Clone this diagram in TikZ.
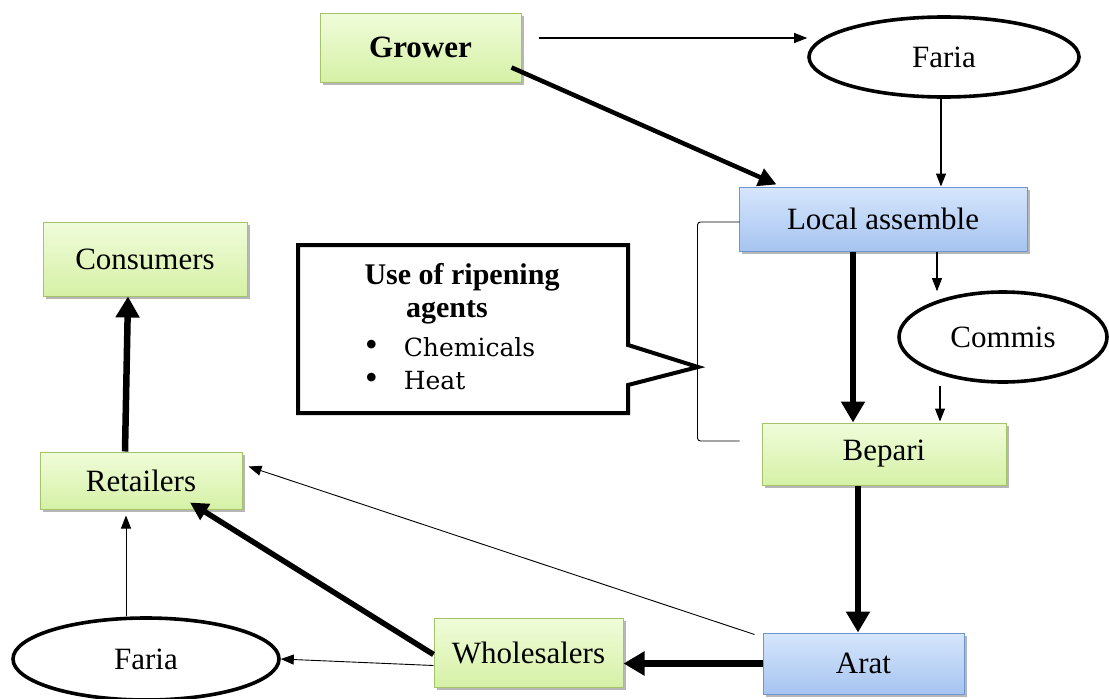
\documentclass[tikz,border=0pt]{standalone}
\usepackage{fontspec}
\setmainfont{Liberation Serif}
\newfontfamily\listfont{DejaVu Serif}
\usetikzlibrary{shapes.geometric,shadows,arrows.meta,calc}
\definecolor{grnTop}{RGB}{240,252,218}
\definecolor{grnBot}{RGB}{214,241,166}
\definecolor{grnEdge}{RGB}{165,196,105}
\definecolor{bluTop}{RGB}{214,230,252}
\definecolor{bluBot}{RGB}{166,196,240}
\definecolor{bluEdge}{RGB}{110,150,210}
\tikzset{
  lbl/.style={font=\fontsize{31}{36}\selectfont},
  box/.style={rectangle, inner sep=0pt, lbl, line width=1pt,
    drop shadow={shadow xshift=2.5pt, shadow yshift=-3pt, fill=black!40, opacity=0.7}},
  greenbox/.style={box, draw=grnEdge, top color=grnTop, bottom color=grnBot},
  bluebox/.style={box, draw=bluEdge, top color=bluTop, bottom color=bluBot},
  agent/.style={ellipse, draw, line width=3.6pt, inner sep=0pt, lbl, fill=white},
  thinarrow/.style={draw, line width=1.1pt, -{Triangle[length=13pt,width=10pt]}},
  thickarrow/.style={draw, line width=6.5pt, -{Triangle[length=21pt,width=23pt]}},
  midarrow/.style={draw, line width=4.5pt, -{Triangle[length=18pt,width=18pt]}},
}
\begin{document}
\begin{tikzpicture}[x=1pt,y=-1pt]
\useasboundingbox (0,0) rectangle (1109,699);

% market actors
\node[greenbox, minimum width=201pt, minimum height=69pt, font=\fontsize{31}{36}\selectfont\bfseries] (grower) at (420.5,47.5) {Grower};
\node[agent, minimum width=270pt, minimum height=80pt] (faria1) at (944,57) {Faria};
\node[bluebox, minimum width=288pt, minimum height=64pt] (local) at (883,219) {Local assemble};
\node[agent, minimum width=208pt, minimum height=90pt] (commis) at (1003,337) {Commis};
\node[greenbox, minimum width=244pt, minimum height=62pt] (bepari) at (884,454) {Bepari};
\node[bluebox, minimum width=201pt, minimum height=61pt] (arat) at (863.5,663.5) {Arat};
\node[greenbox, minimum width=189pt, minimum height=69pt] (whole) at (528.5,652.5) {Wholesalers};
\node[agent, minimum width=266pt, minimum height=82pt] (faria2) at (146,659) {Faria};
\node[greenbox, minimum width=202pt, minimum height=57pt] (retail) at (141,480.5) {Retailers};
\node[greenbox, minimum width=204pt, minimum height=74pt] (consum) at (145,259) {Consumers};

% callout with ripening agents
\draw[line width=4pt, line join=miter, fill=white]
  (298,245) -- (628,245) -- (628,345) -- (698,367) -- (628,385)
  -- (628,413) -- (298,413) -- cycle;
\node[lbl, font=\fontsize{30}{34}\selectfont\bfseries, align=center] (ttl) at (462,294)
  {Use of ripening\\[-1pt]\hspace*{-30pt}agents};
\node[anchor=west, inner sep=0pt] (b1) at (365,347) {{\fontsize{36}{30}\selectfont\textbullet}\hspace{26pt}{\listfont\fontsize{25}{30}\selectfont Chemicals}};
\node[anchor=west, inner sep=0pt] (b2) at (365,381) {{\fontsize{36}{30}\selectfont\textbullet}\hspace{26pt}{\listfont\fontsize{25}{30}\selectfont Heat}};

% bracket joining local assemble and bepari
\coordinate (brT) at ([xshift=1pt,yshift=-3pt]local.west);
\coordinate (brB) at ($(local.west)+(1,222)$);
\draw[line width=0.9pt, rounded corners=3pt] (brT) -- ++(-42,0) |- (brB);

% flows
\draw[thinarrow] ([xshift=17pt,yshift=9.5pt]grower.east) coordinate (g1) -- (g1 -| faria1.west);
\draw[midarrow] ([xshift=-10pt,yshift=15pt]grower.south east) -- ([xshift=38pt,yshift=2pt]local.north west);
\draw[thinarrow] ([xshift=-3pt]faria1.south) coordinate (f1) -- (f1 |- local.north);
\draw[thinarrow] ([xshift=54pt]local.south) coordinate (l1) -- ([yshift=-1pt]l1 |- commis.north);
\draw[thickarrow] ([xshift=-30pt]local.south) coordinate (l2) -- (l2 |- bepari.north);
\draw[thinarrow] ([xshift=-63pt,yshift=-2pt]commis.south) coordinate (c1) -- ([yshift=1pt]c1 |- bepari.north);
\draw[thickarrow] ([xshift=-26pt]bepari.south) coordinate (b3) -- (b3 |- arat.north);
\draw[thickarrow] (arat.west) -- (arat.west -| whole.east);
\draw[line width=0.9pt, -{Triangle[length=13pt,width=10pt]}] ([xshift=-8pt,yshift=-2pt]arat.north west) -- ([xshift=6pt,yshift=14pt]retail.east);
\draw[midarrow, line width=5.5pt] ([yshift=-2pt]whole.west) -- ([xshift=49pt,yshift=7pt]retail.south);
\draw[line width=0.9pt, -{Triangle[length=13pt,width=10pt]}] ([yshift=-13pt]whole.west) -- (faria2.east);
\draw[line width=0.9pt, -{Triangle[length=13pt,width=10pt]}] ([xshift=-20pt]faria2.north) coordinate (f2) -- ([yshift=-6pt]f2 |- retail.south);
\draw[thickarrow] ([xshift=-16pt]retail.north) -- ([xshift=-17pt]consum.south);
\end{tikzpicture}
\end{document}
